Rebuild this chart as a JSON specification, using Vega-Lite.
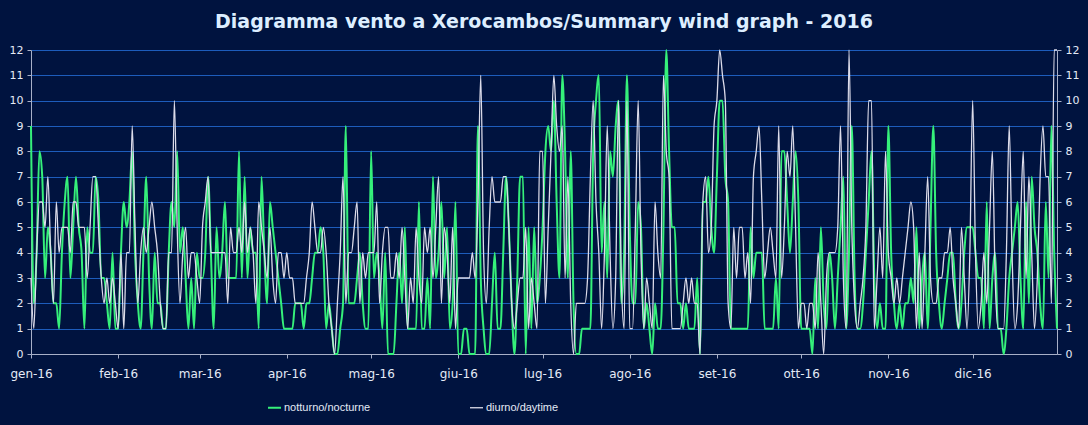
{
  "$schema": "https://vega.github.io/schema/vega-lite/v6.json",
  "width": 1026,
  "height": 304,
  "autosize": {"type": "none"},
  "padding": {"left": 31, "top": 50, "right": 31, "bottom": 71},
  "background": "#00133F",
  "title": {
    "text": "Diagramma vento a Xerocambos/Summary wind graph - 2016",
    "font": "DejaVu Sans",
    "fontSize": 19,
    "fontWeight": "bold",
    "color": "#DDEEFF",
    "anchor": "middle",
    "offset": 12
  },
  "config": {
    "view": {"stroke": null},
    "axis": {
      "labelFont": "DejaVu Sans",
      "labelFontSize": 11,
      "labelColor": "#E4EAF6",
      "domainColor": "#A8B0C8",
      "tickColor": "#A8B0C8",
      "tickSize": 4,
      "titleColor": "#E4EAF6"
    }
  },
  "data": {
    "values": [
      {"day":1,"nocturne":9,"daytime":3},{"day":2,"nocturne":2,"daytime":1},{"day":3,"nocturne":4,"daytime":4},{"day":4,"nocturne":8,"daytime":6},{"day":5,"nocturne":7,"daytime":6},{"day":6,"nocturne":3,"daytime":5},{"day":7,"nocturne":5,"daytime":7},{"day":8,"nocturne":4,"daytime":4},{"day":9,"nocturne":2,"daytime":2},{"day":10,"nocturne":2,"daytime":6},
      {"day":11,"nocturne":1,"daytime":4},{"day":12,"nocturne":4,"daytime":5},{"day":13,"nocturne":6,"daytime":5},{"day":14,"nocturne":7,"daytime":5},{"day":15,"nocturne":3,"daytime":4},{"day":16,"nocturne":5,"daytime":6},{"day":17,"nocturne":7,"daytime":6},{"day":18,"nocturne":5,"daytime":5},{"day":19,"nocturne":4,"daytime":5},{"day":20,"nocturne":1,"daytime":5},
      {"day":21,"nocturne":5,"daytime":3},{"day":22,"nocturne":4,"daytime":5},{"day":23,"nocturne":4,"daytime":7},{"day":24,"nocturne":7,"daytime":7},{"day":25,"nocturne":6,"daytime":5},{"day":26,"nocturne":3,"daytime":3},{"day":27,"nocturne":3,"daytime":2},{"day":28,"nocturne":2,"daytime":3},{"day":29,"nocturne":1,"daytime":2},{"day":30,"nocturne":4,"daytime":3},
      {"day":31,"nocturne":1,"daytime":2},{"day":32,"nocturne":1,"daytime":1},{"day":33,"nocturne":4,"daytime":4},{"day":34,"nocturne":6,"daytime":1},{"day":35,"nocturne":5,"daytime":4},{"day":36,"nocturne":6,"daytime":4},{"day":37,"nocturne":8,"daytime":9},{"day":38,"nocturne":4,"daytime":5},{"day":39,"nocturne":2,"daytime":2},{"day":40,"nocturne":1,"daytime":4},
      {"day":41,"nocturne":4,"daytime":5},{"day":42,"nocturne":7,"daytime":4},{"day":43,"nocturne":3,"daytime":5},{"day":44,"nocturne":1,"daytime":6},{"day":45,"nocturne":4,"daytime":5},{"day":46,"nocturne":2,"daytime":4},{"day":47,"nocturne":2,"daytime":2},{"day":48,"nocturne":1,"daytime":1},{"day":49,"nocturne":1,"daytime":1},{"day":50,"nocturne":4,"daytime":4},
      {"day":51,"nocturne":6,"daytime":4},{"day":52,"nocturne":5,"daytime":10},{"day":53,"nocturne":8,"daytime":5},{"day":54,"nocturne":4,"daytime":2},{"day":55,"nocturne":5,"daytime":4},{"day":56,"nocturne":3,"daytime":5},{"day":57,"nocturne":1,"daytime":3},{"day":58,"nocturne":3,"daytime":4},{"day":59,"nocturne":1,"daytime":4},{"day":60,"nocturne":4,"daytime":3},
      {"day":61,"nocturne":3,"daytime":2},{"day":62,"nocturne":3,"daytime":5},{"day":63,"nocturne":4,"daytime":6},{"day":64,"nocturne":7,"daytime":7},{"day":65,"nocturne":4,"daytime":4},{"day":66,"nocturne":1,"daytime":4},{"day":67,"nocturne":5,"daytime":4},{"day":68,"nocturne":3,"daytime":4},{"day":69,"nocturne":4,"daytime":4},{"day":70,"nocturne":6,"daytime":4},
      {"day":71,"nocturne":3,"daytime":2},{"day":72,"nocturne":3,"daytime":5},{"day":73,"nocturne":3,"daytime":4},{"day":74,"nocturne":3,"daytime":4},{"day":75,"nocturne":8,"daytime":5},{"day":76,"nocturne":3,"daytime":4},{"day":77,"nocturne":7,"daytime":6},{"day":78,"nocturne":3,"daytime":4},{"day":79,"nocturne":5,"daytime":5},{"day":80,"nocturne":4,"daytime":4},
      {"day":81,"nocturne":4,"daytime":2},{"day":82,"nocturne":1,"daytime":6},{"day":83,"nocturne":7,"daytime":5},{"day":84,"nocturne":4,"daytime":4},{"day":85,"nocturne":2,"daytime":3},{"day":86,"nocturne":6,"daytime":5},{"day":87,"nocturne":5,"daytime":3},{"day":88,"nocturne":4,"daytime":2},{"day":89,"nocturne":3,"daytime":4},{"day":90,"nocturne":2,"daytime":4},
      {"day":91,"nocturne":1,"daytime":3},{"day":92,"nocturne":1,"daytime":4},{"day":93,"nocturne":1,"daytime":3},{"day":94,"nocturne":1,"daytime":3},{"day":95,"nocturne":2,"daytime":2},{"day":96,"nocturne":2,"daytime":2},{"day":97,"nocturne":2,"daytime":2},{"day":98,"nocturne":1,"daytime":2},{"day":99,"nocturne":2,"daytime":3},{"day":100,"nocturne":2,"daytime":4},
      {"day":101,"nocturne":3,"daytime":6},{"day":102,"nocturne":4,"daytime":5},{"day":103,"nocturne":4,"daytime":4},{"day":104,"nocturne":5,"daytime":4},{"day":105,"nocturne":4,"daytime":5},{"day":106,"nocturne":1,"daytime":4},{"day":107,"nocturne":2,"daytime":2},{"day":108,"nocturne":1,"daytime":1},{"day":109,"nocturne":0,"daytime":0},{"day":110,"nocturne":0,"daytime":2},
      {"day":111,"nocturne":1,"daytime":4},{"day":112,"nocturne":2,"daytime":7},{"day":113,"nocturne":9,"daytime":2},{"day":114,"nocturne":2,"daytime":4},{"day":115,"nocturne":2,"daytime":4},{"day":116,"nocturne":2,"daytime":5},{"day":117,"nocturne":3,"daytime":6},{"day":118,"nocturne":4,"daytime":2},{"day":119,"nocturne":2,"daytime":4},{"day":120,"nocturne":1,"daytime":3},
      {"day":121,"nocturne":1,"daytime":4},{"day":122,"nocturne":8,"daytime":4},{"day":123,"nocturne":3,"daytime":4},{"day":124,"nocturne":4,"daytime":6},{"day":125,"nocturne":3,"daytime":2},{"day":126,"nocturne":1,"daytime":4},{"day":127,"nocturne":4,"daytime":5},{"day":128,"nocturne":0,"daytime":5},{"day":129,"nocturne":0,"daytime":3},{"day":130,"nocturne":0,"daytime":3},
      {"day":131,"nocturne":2,"daytime":4},{"day":132,"nocturne":4,"daytime":3},{"day":133,"nocturne":2,"daytime":5},{"day":134,"nocturne":5,"daytime":3},{"day":135,"nocturne":1,"daytime":1},{"day":136,"nocturne":1,"daytime":3},{"day":137,"nocturne":1,"daytime":2},{"day":138,"nocturne":1,"daytime":5},{"day":139,"nocturne":6,"daytime":3},{"day":140,"nocturne":1,"daytime":2},
      {"day":141,"nocturne":1,"daytime":5},{"day":142,"nocturne":3,"daytime":4},{"day":143,"nocturne":1,"daytime":5},{"day":144,"nocturne":7,"daytime":3},{"day":145,"nocturne":3,"daytime":5},{"day":146,"nocturne":4,"daytime":7},{"day":147,"nocturne":6,"daytime":2},{"day":148,"nocturne":3,"daytime":5},{"day":149,"nocturne":5,"daytime":4},{"day":150,"nocturne":1,"daytime":2},
      {"day":151,"nocturne":2,"daytime":5},{"day":152,"nocturne":6,"daytime":1},{"day":153,"nocturne":0,"daytime":3},{"day":154,"nocturne":0,"daytime":3},{"day":155,"nocturne":1,"daytime":3},{"day":156,"nocturne":1,"daytime":3},{"day":157,"nocturne":0,"daytime":3},{"day":158,"nocturne":0,"daytime":4},{"day":159,"nocturne":0,"daytime":3},{"day":160,"nocturne":9,"daytime":6},
      {"day":161,"nocturne":3,"daytime":11},{"day":162,"nocturne":1,"daytime":4},{"day":163,"nocturne":0,"daytime":2},{"day":164,"nocturne":0,"daytime":5},{"day":165,"nocturne":2,"daytime":7},{"day":166,"nocturne":4,"daytime":6},{"day":167,"nocturne":1,"daytime":6},{"day":168,"nocturne":1,"daytime":6},{"day":169,"nocturne":4,"daytime":7},{"day":170,"nocturne":7,"daytime":7},
      {"day":171,"nocturne":5,"daytime":5},{"day":172,"nocturne":2,"daytime":2},{"day":173,"nocturne":0,"daytime":1},{"day":174,"nocturne":3,"daytime":2},{"day":175,"nocturne":7,"daytime":3},{"day":176,"nocturne":7,"daytime":3},{"day":177,"nocturne":0,"daytime":5},{"day":178,"nocturne":5,"daytime":1},{"day":179,"nocturne":1,"daytime":3},{"day":180,"nocturne":5,"daytime":2},
      {"day":181,"nocturne":2,"daytime":1},{"day":182,"nocturne":3,"daytime":8},{"day":183,"nocturne":5,"daytime":8},{"day":184,"nocturne":8,"daytime":2},{"day":185,"nocturne":9,"daytime":5},{"day":186,"nocturne":8,"daytime":8},{"day":187,"nocturne":10,"daytime":11},{"day":188,"nocturne":6,"daytime":9},{"day":189,"nocturne":3,"daytime":8},{"day":190,"nocturne":11,"daytime":9},
      {"day":191,"nocturne":8,"daytime":3},{"day":192,"nocturne":3,"daytime":7},{"day":193,"nocturne":8,"daytime":2},{"day":194,"nocturne":2,"daytime":0},{"day":195,"nocturne":0,"daytime":2},{"day":196,"nocturne":0,"daytime":2},{"day":197,"nocturne":1,"daytime":2},{"day":198,"nocturne":1,"daytime":2},{"day":199,"nocturne":1,"daytime":3},{"day":200,"nocturne":1,"daytime":7},
      {"day":201,"nocturne":8,"daytime":10},{"day":202,"nocturne":10,"daytime":6},{"day":203,"nocturne":11,"daytime":4},{"day":204,"nocturne":4,"daytime":1},{"day":205,"nocturne":6,"daytime":4},{"day":206,"nocturne":3,"daytime":9},{"day":207,"nocturne":8,"daytime":4},{"day":208,"nocturne":7,"daytime":1},{"day":209,"nocturne":9,"daytime":3},{"day":210,"nocturne":10,"daytime":10},
      {"day":211,"nocturne":2,"daytime":3},{"day":212,"nocturne":4,"daytime":1},{"day":213,"nocturne":11,"daytime":10},{"day":214,"nocturne":5,"daytime":1},{"day":215,"nocturne":2,"daytime":1},{"day":216,"nocturne":2,"daytime":5},{"day":217,"nocturne":6,"daytime":10},{"day":218,"nocturne":5,"daytime":4},{"day":219,"nocturne":1,"daytime":1},{"day":220,"nocturne":2,"daytime":3},
      {"day":221,"nocturne":1,"daytime":2},{"day":222,"nocturne":0,"daytime":1},{"day":223,"nocturne":2,"daytime":6},{"day":224,"nocturne":1,"daytime":4},{"day":225,"nocturne":1,"daytime":3},{"day":226,"nocturne":5,"daytime":11},{"day":227,"nocturne":12,"daytime":8},{"day":228,"nocturne":8,"daytime":7},{"day":229,"nocturne":5,"daytime":1},{"day":230,"nocturne":5,"daytime":1},
      {"day":231,"nocturne":2,"daytime":1},{"day":232,"nocturne":2,"daytime":1},{"day":233,"nocturne":1,"daytime":2},{"day":234,"nocturne":2,"daytime":3},{"day":235,"nocturne":1,"daytime":2},{"day":236,"nocturne":1,"daytime":3},{"day":237,"nocturne":1,"daytime":2},{"day":238,"nocturne":3,"daytime":2},{"day":239,"nocturne":0,"daytime":0},{"day":240,"nocturne":6,"daytime":6},
      {"day":241,"nocturne":6,"daytime":7},{"day":242,"nocturne":7,"daytime":4},{"day":243,"nocturne":5,"daytime":5},{"day":244,"nocturne":4,"daytime":9},{"day":245,"nocturne":7,"daytime":10},{"day":246,"nocturne":10,"daytime":12},{"day":247,"nocturne":10,"daytime":11},{"day":248,"nocturne":7,"daytime":10},{"day":249,"nocturne":6,"daytime":2},{"day":250,"nocturne":1,"daytime":1},
      {"day":251,"nocturne":1,"daytime":5},{"day":252,"nocturne":1,"daytime":3},{"day":253,"nocturne":1,"daytime":5},{"day":254,"nocturne":1,"daytime":5},{"day":255,"nocturne":1,"daytime":3},{"day":256,"nocturne":1,"daytime":4},{"day":257,"nocturne":5,"daytime":2},{"day":258,"nocturne":3,"daytime":7},{"day":259,"nocturne":4,"daytime":8},{"day":260,"nocturne":4,"daytime":9},
      {"day":261,"nocturne":4,"daytime":6},{"day":262,"nocturne":1,"daytime":3},{"day":263,"nocturne":1,"daytime":4},{"day":264,"nocturne":1,"daytime":5},{"day":265,"nocturne":1,"daytime":4},{"day":266,"nocturne":3,"daytime":3},{"day":267,"nocturne":1,"daytime":9},{"day":268,"nocturne":8,"daytime":3},{"day":269,"nocturne":8,"daytime":5},{"day":270,"nocturne":6,"daytime":8},
      {"day":271,"nocturne":4,"daytime":7},{"day":272,"nocturne":6,"daytime":9},{"day":273,"nocturne":8,"daytime":5},{"day":274,"nocturne":6,"daytime":1},{"day":275,"nocturne":1,"daytime":2},{"day":276,"nocturne":1,"daytime":2},{"day":277,"nocturne":1,"daytime":1},{"day":278,"nocturne":1,"daytime":2},{"day":279,"nocturne":0,"daytime":2},{"day":280,"nocturne":3,"daytime":1},
      {"day":281,"nocturne":1,"daytime":4},{"day":282,"nocturne":5,"daytime":2},{"day":283,"nocturne":2,"daytime":0},{"day":284,"nocturne":1,"daytime":3},{"day":285,"nocturne":4,"daytime":4},{"day":286,"nocturne":3,"daytime":4},{"day":287,"nocturne":1,"daytime":4},{"day":288,"nocturne":3,"daytime":5},{"day":289,"nocturne":5,"daytime":9},{"day":290,"nocturne":7,"daytime":3},
      {"day":291,"nocturne":1,"daytime":1},{"day":292,"nocturne":4,"daytime":12},{"day":293,"nocturne":9,"daytime":5},{"day":294,"nocturne":3,"daytime":2},{"day":295,"nocturne":1,"daytime":1},{"day":296,"nocturne":1,"daytime":2},{"day":297,"nocturne":2,"daytime":3},{"day":298,"nocturne":4,"daytime":5},{"day":299,"nocturne":6,"daytime":10},{"day":300,"nocturne":8,"daytime":10},
      {"day":301,"nocturne":3,"daytime":1},{"day":302,"nocturne":1,"daytime":3},{"day":303,"nocturne":2,"daytime":5},{"day":304,"nocturne":1,"daytime":3},{"day":305,"nocturne":1,"daytime":8},{"day":306,"nocturne":9,"daytime":4},{"day":307,"nocturne":4,"daytime":3},{"day":308,"nocturne":2,"daytime":2},{"day":309,"nocturne":1,"daytime":3},{"day":310,"nocturne":2,"daytime":2},
      {"day":311,"nocturne":1,"daytime":3},{"day":312,"nocturne":2,"daytime":4},{"day":313,"nocturne":2,"daytime":5},{"day":314,"nocturne":3,"daytime":6},{"day":315,"nocturne":2,"daytime":5},{"day":316,"nocturne":5,"daytime":1},{"day":317,"nocturne":1,"daytime":4},{"day":318,"nocturne":3,"daytime":1},{"day":319,"nocturne":4,"daytime":4},{"day":320,"nocturne":1,"daytime":7},
      {"day":321,"nocturne":5,"daytime":3},{"day":322,"nocturne":9,"daytime":2},{"day":323,"nocturne":4,"daytime":2},{"day":324,"nocturne":2,"daytime":3},{"day":325,"nocturne":1,"daytime":3},{"day":326,"nocturne":2,"daytime":4},{"day":327,"nocturne":3,"daytime":4},{"day":328,"nocturne":4,"daytime":5},{"day":329,"nocturne":4,"daytime":3},{"day":330,"nocturne":2,"daytime":2},
      {"day":331,"nocturne":1,"daytime":1},{"day":332,"nocturne":2,"daytime":5},{"day":333,"nocturne":4,"daytime":3},{"day":334,"nocturne":5,"daytime":1},{"day":335,"nocturne":5,"daytime":4},{"day":336,"nocturne":5,"daytime":10},{"day":337,"nocturne":4,"daytime":4},{"day":338,"nocturne":3,"daytime":1},{"day":339,"nocturne":3,"daytime":2},{"day":340,"nocturne":1,"daytime":4},
      {"day":341,"nocturne":6,"daytime":2},{"day":342,"nocturne":1,"daytime":5},{"day":343,"nocturne":3,"daytime":8},{"day":344,"nocturne":4,"daytime":3},{"day":345,"nocturne":1,"daytime":1},{"day":346,"nocturne":1,"daytime":1},{"day":347,"nocturne":0,"daytime":1},{"day":348,"nocturne":1,"daytime":4},{"day":349,"nocturne":3,"daytime":9},{"day":350,"nocturne":4,"daytime":4},
      {"day":351,"nocturne":5,"daytime":1},{"day":352,"nocturne":6,"daytime":2},{"day":353,"nocturne":3,"daytime":5},{"day":354,"nocturne":1,"daytime":8},{"day":355,"nocturne":6,"daytime":3},{"day":356,"nocturne":2,"daytime":7},{"day":357,"nocturne":7,"daytime":4},{"day":358,"nocturne":5,"daytime":1},{"day":359,"nocturne":4,"daytime":3},{"day":360,"nocturne":2,"daytime":7},
      {"day":361,"nocturne":1,"daytime":9},{"day":362,"nocturne":6,"daytime":7},{"day":363,"nocturne":3,"daytime":7},{"day":364,"nocturne":9,"daytime":2},{"day":365,"nocturne":4,"daytime":12},{"day":366,"nocturne":1,"daytime":12}
    ]
  },
  "transform": [{"fold": ["nocturne", "daytime"], "as": ["series", "wind"]}],
  "layer": [
    {
      "mark": {"type": "line", "interpolate": "monotone"},
      "encoding": {
        "x": {
          "field": "day",
          "type": "quantitative",
          "scale": {"domain": [1, 366], "nice": false, "zero": false},
          "axis": {
            "title": null,
            "grid": false,
            "values": [1, 32, 61, 92, 122, 153, 183, 214, 245, 275, 306, 336],
            "labelExpr": "['gen','feb','mar','apr','mag','giu','lug','ago','set','ott','nov','dic'][indexof([1,32,61,92,122,153,183,214,245,275,306,336], datum.value)] + '-16'",
            "labelFontSize": 12,
            "labelPadding": 10,
            "labelAlign": "center",
            "labelFlush": false,
            "labelOverlap": false,
            "labelBound": false
          }
        },
        "y": {
          "field": "wind",
          "type": "quantitative",
          "scale": {"domain": [0, 12], "nice": false},
          "axis": {
            "title": null,
            "orient": "left",
            "values": [0,1,2,3,4,5,6,7,8,9,10,11,12],
            "grid": true,
            "gridColor": "#1D5CBB",
            "gridWidth": 1.2,
            "labelPadding": 4
          }
        },
        "color": {
          "field": "series",
          "type": "nominal",
          "sort": ["nocturne", "daytime"],
          "scale": {"domain": ["nocturne", "daytime"], "range": ["#35F07A", "#DCDCEA"]},
          "legend": {
            "title": null,
            "orient": "none",
            "legendX": 236,
            "legendY": 350,
            "direction": "horizontal",
            "columns": 2,
            "columnPadding": 96,
            "padding": 0,
            "symbolType": "stroke",
            "symbolSize": 169,
            "symbolStrokeWidth": 2.5,
            "labelOffset": 2,
            "labelFont": "Liberation Sans",
            "labelFontSize": 11,
            "labelColor": "#E4EAF6",
            "labelExpr": "datum.value == 'nocturne' ? 'notturno/nocturne' : 'diurno/daytime'"
          }
        },
        "strokeWidth": {
          "field": "series",
          "type": "nominal",
          "scale": {"domain": ["nocturne", "daytime"], "range": [2, 1.3]},
          "legend": null
        }
      }
    },
    {
      "mark": {"type": "line", "opacity": 0},
      "encoding": {
        "x": {"field": "day", "type": "quantitative"},
        "y": {
          "field": "wind",
          "type": "quantitative",
          "axis": {
            "title": null,
            "orient": "right",
            "values": [0,1,2,3,4,5,6,7,8,9,10,11,12],
            "grid": false,
            "labelPadding": 4
          }
        }
      }
    }
  ],
  "resolve": {"axis": {"y": "independent"}}
}
